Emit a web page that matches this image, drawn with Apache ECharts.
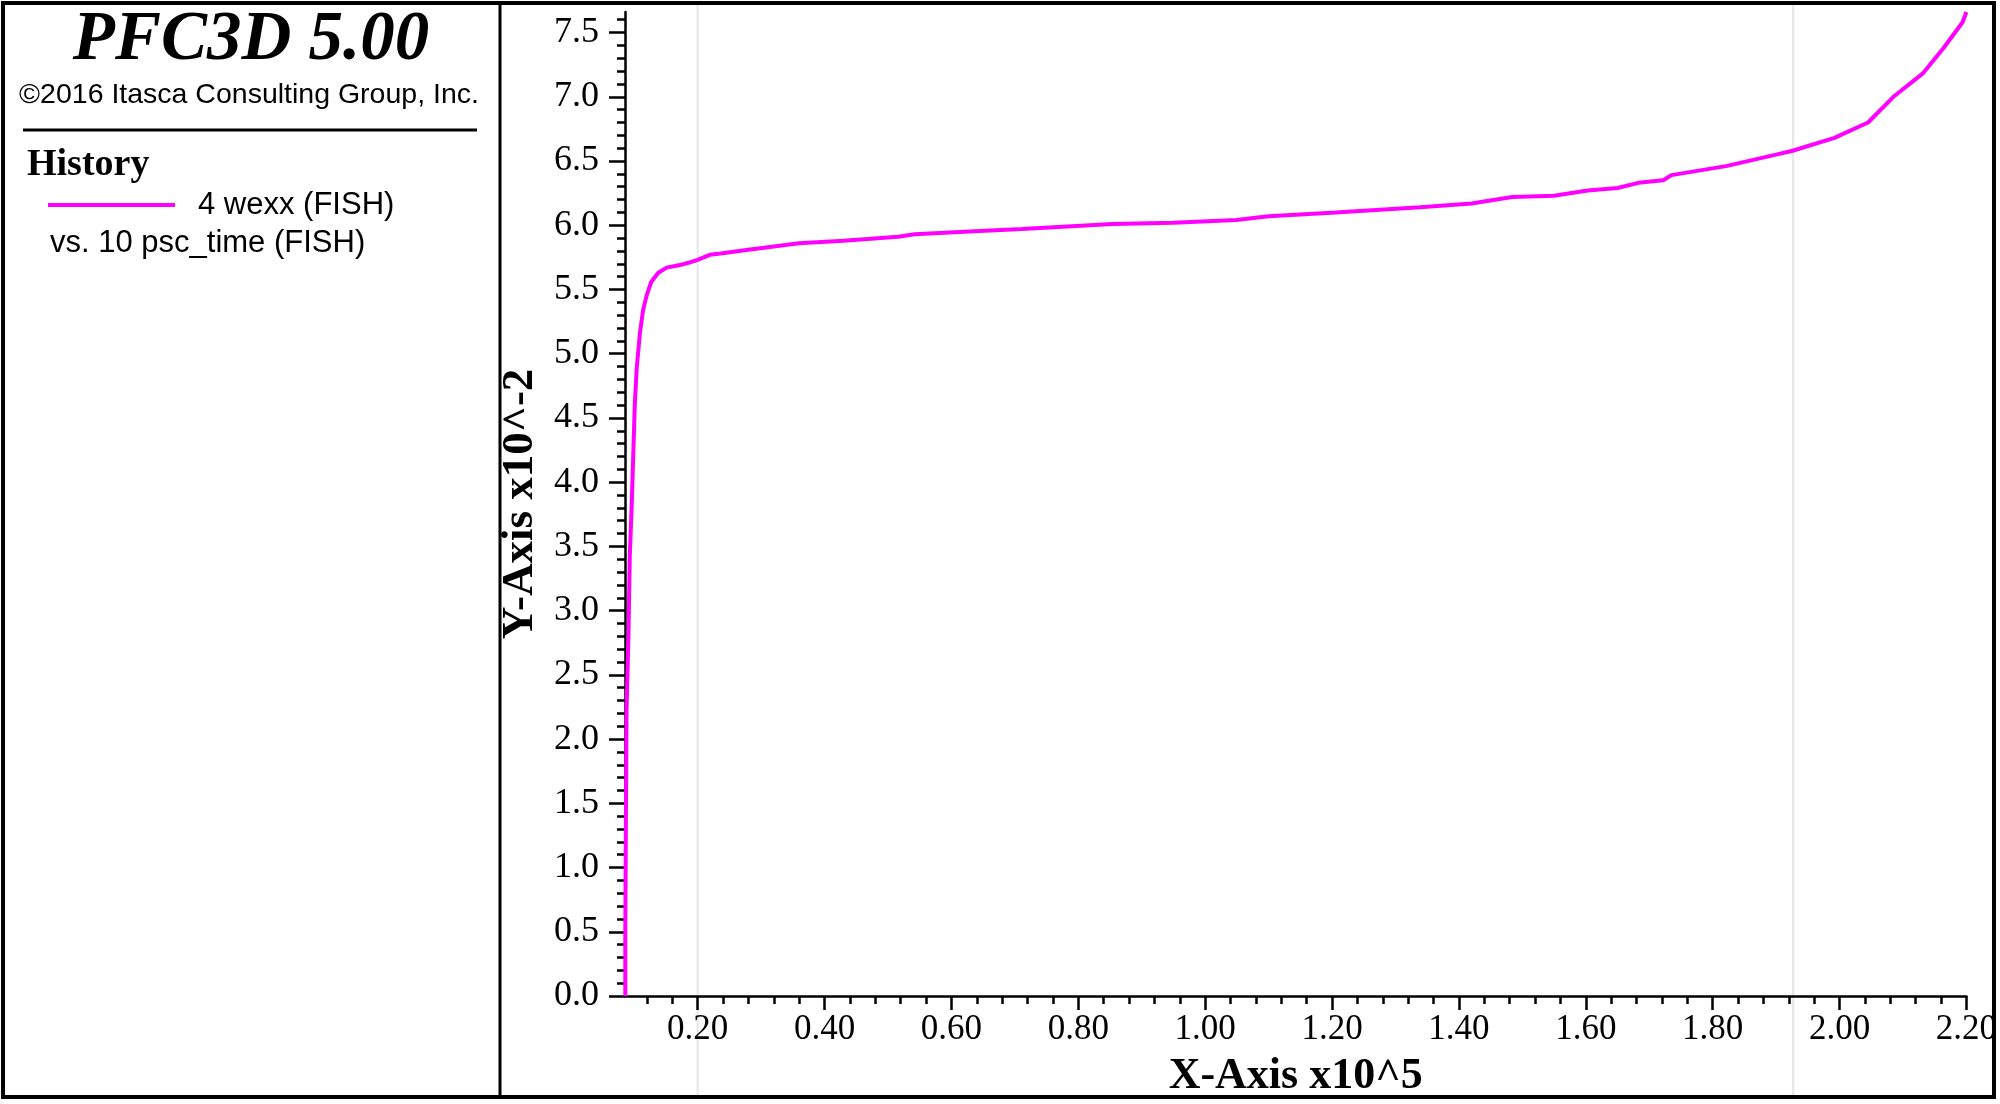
<!DOCTYPE html>
<html>
<head>
<meta charset="utf-8">
<script src="https://cdn.jsdelivr.net/npm/echarts@6/dist/echarts.min.js"></script>
<style>
html,body{margin:0;padding:0;background:#fff;}
#chart{width:2000px;height:1104px;}
</style>
</head>
<body>
<div id="chart"></div>
<script>
// ---- data (x in units of 10^5, y in units of 10^-2) ----
const xValues = [0.086, 0.086, 0.087, 0.088, 0.091, 0.093, 0.096, 0.099, 0.101, 0.104,
  0.109, 0.114, 0.120, 0.127, 0.138, 0.151, 0.172, 0.187, 0.200, 0.219,
  0.236, 0.280, 0.360, 0.430, 0.516, 0.542, 0.620, 0.711, 0.854, 0.950,
  1.049, 1.100, 1.206, 1.339, 1.420, 1.484, 1.550, 1.603, 1.650, 1.683,
  1.722, 1.735, 1.821, 1.900, 1.926, 1.992, 2.045, 2.085, 2.131, 2.164,
  2.194, 2.200];
const yValues = [0.00, 0.50, 1.43, 2.23, 2.82, 3.42, 3.81, 4.29, 4.61, 4.89,
  5.16, 5.34, 5.46, 5.56, 5.63, 5.67, 5.69, 5.71, 5.73, 5.77,
  5.78, 5.81, 5.86, 5.88, 5.91, 5.93, 5.95, 5.97, 6.01, 6.02,
  6.04, 6.07, 6.10, 6.14, 6.17, 6.22, 6.23, 6.27, 6.29, 6.33,
  6.35, 6.39, 6.46, 6.55, 6.58, 6.68, 6.80, 7.00, 7.18, 7.38,
  7.58, 7.66];
const xTickLabels = ['0.20','0.40','0.60','0.80','1.00','1.20','1.40','1.60','1.80','2.00','2.20'];
const yTickLabels = ['0.0','0.5','1.0','1.5','2.0','2.5','3.0','3.5','4.0','4.5','5.0','5.5','6.0','6.5','7.0','7.5'];
const guideLines = [0.20, 1.927];
const titleText = 'PFC3D 5.00';
const copyrightText = '\u00A92016 Itasca Consulting Group, Inc.';
const historyText = 'History';
const seriesName = '4 wexx (FISH)';
const vsText = 'vs. 10 psc_time (FISH)';
const xAxisTitle = 'X-Axis x10^5';
const yAxisTitle = 'Y-Axis x10^-2';

const X_MIN = 0.0855, X_MAX = 2.2, Y_MIN = 0, Y_MAX = 7.66;
const LINE_COLOR = '#ff00ff';

const xTickValues = xTickLabels.map(Number);
const yTickValues = yTickLabels.map(Number);
const xMinor = [];
for (let i = 2; i <= 55; i++) { const v = Math.round(i * 4) / 100; if (v > X_MIN && v <= X_MAX + 1e-9) xMinor.push(v); }
const yMinor = [];
for (let i = 0; i <= 76; i++) { const v = i / 10; if (v <= Y_MAX) yMinor.push(v); }

const seriesData = xValues.map((x, i) => [x, yValues[i]]);

const chart = echarts.init(document.getElementById('chart'), null, {renderer: 'canvas'});

const xLabelFont = {fontFamily: 'Liberation Serif', fontSize: 35, color: '#000'};
const yLabelFont = {fontFamily: 'Liberation Serif', fontSize: 36, color: '#000'};
const titleFont = {fontFamily: 'Liberation Serif', fontSize: 44, fontWeight: 'bold', color: '#000'};
const yTitleFont = {fontFamily: 'Liberation Serif', fontSize: 45, fontWeight: 'bold', color: '#000'};
const axisLineStyle = {color: '#000', width: 2.5};

const graphics = [
  {type: 'rect', z: 100, shape: {x: 3, y: 3, width: 1991, height: 1094}, style: {fill: 'none', stroke: '#000', lineWidth: 4}},
  {type: 'rect', z: 99, shape: {x: 1996, y: 0, width: 4, height: 1104}, style: {fill: '#fff'}},
  {type: 'line', z: 100, shape: {x1: 500, y1: 3, x2: 500, y2: 1097}, style: {stroke: '#000', lineWidth: 3}},
  {type: 'line', z: 100, shape: {x1: 23, y1: 130, x2: 477, y2: 130}, style: {stroke: '#000', lineWidth: 3}},
  {type: 'text', z: 100, style: {text: titleText, x: 251, y: 41.5, textAlign: 'center', textVerticalAlign: 'middle',
    fontFamily: 'Liberation Serif', fontSize: 69, fontWeight: 'bold', fontStyle: 'italic', fill: '#000'}},
  {type: 'text', z: 100, style: {text: copyrightText, x: 249, y: 95.5, textAlign: 'center', textVerticalAlign: 'middle',
    fontFamily: 'Liberation Sans', fontSize: 28.5, fill: '#000'}},
  {type: 'text', z: 100, style: {text: historyText, x: 27, y: 165.5, textAlign: 'left', textVerticalAlign: 'middle',
    fontFamily: 'Liberation Serif', fontSize: 38, fontWeight: 'bold', fill: '#000'}},
  {type: 'line', z: 100, shape: {x1: 48, y1: 205, x2: 175, y2: 205}, style: {stroke: LINE_COLOR, lineWidth: 4}},
  {type: 'text', z: 100, style: {text: seriesName, x: 198, y: 205.5, textAlign: 'left', textVerticalAlign: 'middle',
    fontFamily: 'Liberation Sans', fontSize: 31, fill: '#000'}},
  {type: 'text', z: 100, style: {text: vsText, x: 50, y: 243.5, textAlign: 'left', textVerticalAlign: 'middle',
    fontFamily: 'Liberation Sans', fontSize: 31, fill: '#000'}}
];

chart.setOption({
  animation: false,
  backgroundColor: '#fff',
  grid: {left: 625, right: 27, top: 12, bottom: 108, containLabel: false},
  xAxis: [
    {
      type: 'value', position: 'bottom', min: X_MIN, max: X_MAX,
      name: xAxisTitle, nameLocation: 'middle', nameGap: 59, nameTextStyle: titleFont,
      axisLine: {show: true, onZero: false, lineStyle: axisLineStyle},
      axisTick: {show: true, inside: false, length: 14, customValues: xTickValues, lineStyle: axisLineStyle},
      axisLabel: {show: true, margin: 16, customValues: xTickValues, ...xLabelFont,
        formatter: v => { const i = xTickValues.findIndex(t => Math.abs(t - v) < 1e-9); return i >= 0 ? xTickLabels[i] : ''; }},
      splitLine: {show: false}
    },
    {
      type: 'value', position: 'bottom', min: X_MIN, max: X_MAX,
      axisLine: {show: false},
      axisTick: {show: true, inside: false, length: 8, customValues: xMinor, lineStyle: axisLineStyle},
      axisLabel: {show: false},
      splitLine: {show: false}
    }
  ],
  yAxis: [
    {
      type: 'value', position: 'left', min: Y_MIN, max: Y_MAX,
      name: yAxisTitle, nameLocation: 'middle', nameGap: 79, nameTextStyle: yTitleFont,
      axisLine: {show: true, onZero: false, lineStyle: axisLineStyle},
      axisTick: {show: true, inside: false, length: 16, customValues: yTickValues, lineStyle: axisLineStyle},
      axisLabel: {show: true, margin: 26, customValues: yTickValues, ...yLabelFont,
        formatter: v => { const i = yTickValues.findIndex(t => Math.abs(t - v) < 1e-9); return i >= 0 ? yTickLabels[i] : ''; }},
      splitLine: {show: false}
    },
    {
      type: 'value', position: 'left', min: Y_MIN, max: Y_MAX,
      axisLine: {show: false},
      axisTick: {show: true, inside: false, length: 8, customValues: yMinor, lineStyle: axisLineStyle},
      axisLabel: {show: false},
      splitLine: {show: false}
    }
  ],
  series: [{
    name: seriesName, type: 'line', xAxisIndex: 0, yAxisIndex: 0,
    data: seriesData, showSymbol: false, clip: false, z: 5,
    lineStyle: {color: LINE_COLOR, width: 4}
  }],
  graphic: graphics
});

// faint vertical guide lines of the original plot page
const guideGraphics = guideLines.map(v => {
  const px = chart.convertToPixel({xAxisIndex: 0}, v);
  return {type: 'line', z: -1, shape: {x1: px, y1: 5, x2: px, y2: 1095}, style: {stroke: '#e6e6e6', lineWidth: 2}};
});
chart.setOption({graphic: graphics.concat(guideGraphics)});
</script>
</body>
</html>
